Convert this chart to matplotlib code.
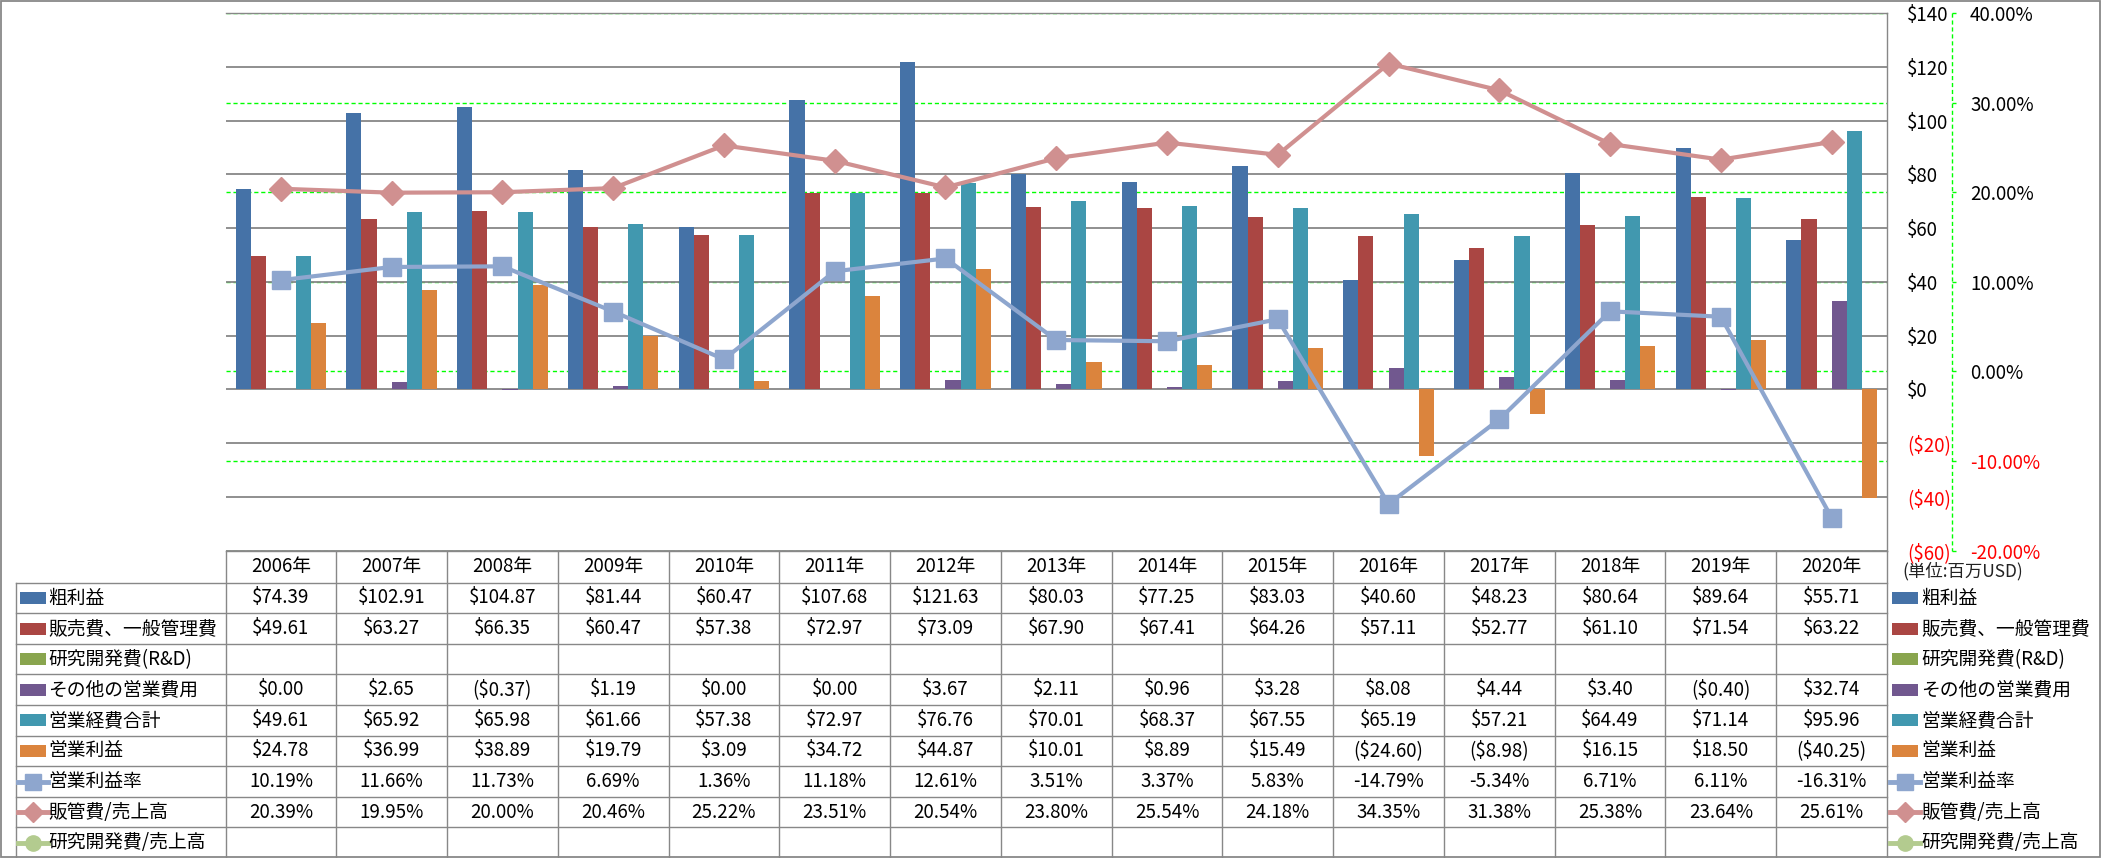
import numpy as np
import matplotlib
matplotlib.use('Agg')
import matplotlib.pyplot as plt
from matplotlib.patches import Rectangle

plt.rcParams['font.family'] = ['Noto Sans CJK JP', 'DejaVu Sans']

# ---- data ----
years = ['2006年', '2007年', '2008年', '2009年', '2010年', '2011年', '2012年', '2013年',
         '2014年', '2015年', '2016年', '2017年', '2018年', '2019年', '2020年']

gross_profit = [74.39, 102.91, 104.87, 81.44, 60.47, 107.68, 121.63, 80.03, 77.25, 83.03,
                40.60, 48.23, 80.64, 89.64, 55.71]
sga = [49.61, 63.27, 66.35, 60.47, 57.38, 72.97, 73.09, 67.90, 67.41, 64.26,
       57.11, 52.77, 61.10, 71.54, 63.22]
rnd = [None] * 15
other_opex = [0.00, 2.65, -0.37, 1.19, 0.00, 0.00, 3.67, 2.11, 0.96, 3.28,
              8.08, 4.44, 3.40, -0.40, 32.74]
total_opex = [49.61, 65.92, 65.98, 61.66, 57.38, 72.97, 76.76, 70.01, 68.37, 67.55,
              65.19, 57.21, 64.49, 71.14, 95.96]
op_income = [24.78, 36.99, 38.89, 19.79, 3.09, 34.72, 44.87, 10.01, 8.89, 15.49,
             -24.60, -8.98, 16.15, 18.50, -40.25]
op_margin = [10.19, 11.66, 11.73, 6.69, 1.36, 11.18, 12.61, 3.51, 3.37, 5.83,
             -14.79, -5.34, 6.71, 6.11, -16.31]
sga_ratio = [20.39, 19.95, 20.00, 20.46, 25.22, 23.51, 20.54, 23.80, 25.54, 24.18,
             34.35, 31.38, 25.38, 23.64, 25.61]
rnd_ratio = [None] * 15

bar_names = ['粗利益', '販売費、一般管理費', '研究開発費(R&D)', 'その他の営業費用', '営業経費合計', '営業利益']
bar_data = [gross_profit, sga, rnd, other_opex, total_opex, op_income]
bar_colors = ['#4572A7', '#AA4643', '#89A54E', '#71588F', '#4198AF', '#DB843D']

line_names = ['営業利益率', '販管費/売上高', '研究開発費/売上高']
line_data = [op_margin, sga_ratio, rnd_ratio]
line_colors = ['#8EA6CE', '#D09090', '#B3CB8F']
line_markers = ['s', 'D', 'o']

dollar_ticks = list(range(-60, 141, 20))
pct_ticks = [-0.2, -0.1, 0.0, 0.1, 0.2, 0.3, 0.4]


def fmt_money(v):
    if v is None:
        return ''
    return '(${:.2f})'.format(-v) if v < 0 else '${:.2f}'.format(v)


def fmt_pct(v):
    if v is None:
        return ''
    return '{:.2f}%'.format(v)


def arr(v):
    return np.array([np.nan if a is None else a for a in v], dtype=float)


# ---- layout (pixels) ----
W, H = 2101, 858
L, R, T, B = 225.5, 1887.0, 13.0, 550.7
AX2_X = 1951.5  # secondary axis line
GRID = '#878787'
GREEN = '#00FF00'
PT = 0.72  # points per pixel at dpi 100

fig = plt.figure(figsize=(W / 100, H / 100), dpi=100)
fig.patch.set_facecolor('white')
rect = [L / W, 1 - B / H, (R - L) / W, (B - T) / H]

x = np.arange(len(years))

# green secondary gridlines behind everything
gax = fig.add_axes(rect, zorder=0)
gax.set_xlim(-0.5, 14.5)
gax.set_ylim(-0.2, 0.4)
for p in pct_ticks:
    gax.axhline(p, color=GREEN, lw=1.0, ls=(0, (3, 2)))
gax.set_xticks([])
gax.set_yticks([])
gax.set_frame_on(False)

# secondary value axis labels, right of the $ labels
sax = fig.add_axes([L / W, 1 - B / H, (AX2_X - L) / W, (B - T) / H], zorder=0)
sax.set_frame_on(False)
sax.set_ylim(-0.2, 0.4)
sax.set_xticks([])
sax.yaxis.tick_right()
sax.set_yticks(pct_ticks)
sax.set_yticklabels(['{:.2f}%'.format(p * 100) for p in pct_ticks])
sax.tick_params(axis='y', direction='out', length=3.5 * PT, width=1, color=GREEN,
                pad=15 * PT, labelsize=13.5)
for lab, p in zip(sax.get_yticklabels(), pct_ticks):
    lab.set_color('#FF0000' if p < -1e-9 else 'black')

# primary axes with bars
ax = fig.add_axes(rect, zorder=1)
ax.set_frame_on(False)
ax.set_xlim(-0.5, 14.5)
ax.set_ylim(-60, 140)
ax.set_axisbelow(True)
ax.yaxis.grid(True, color=GRID, lw=1.3)

bw = 15.1 / ((R - L) / 15)
for k, (vals, c) in enumerate(zip(bar_data, bar_colors)):
    if all(v is None for v in vals):
        continue
    ax.bar(x + (k - 2.5) * bw, arr(vals), width=bw, color=c, zorder=2, linewidth=0)

ax.set_xticks([])
ax.yaxis.tick_right()
ax.set_yticks(dollar_ticks)
ax.set_yticklabels(['(${})'.format(-t) if t < 0 else '${}'.format(t) for t in dollar_ticks])
ax.tick_params(axis='y', left=False, right=False, labelleft=False, labelright=True,
               length=0, pad=20 * PT, labelsize=13.5)
for lab, t in zip(ax.get_yticklabels(), dollar_ticks):
    lab.set_color('#FF0000' if t < 0 else 'black')

# lines on the percent scale
lax = fig.add_axes(rect, zorder=2)
lax.set_frame_on(False)
lax.set_xlim(-0.5, 14.5)
lax.set_ylim(-0.2, 0.4)
lax.set_xticks([])
lax.set_yticks([])
for vals, c, m in zip(line_data, line_colors, line_markers):
    if all(v is None for v in vals):
        continue
    ms = 12.5 if m == 'D' else 13
    lax.plot(x, arr(vals) / 100, color=c, lw=3, marker=m, ms=ms, mfc=c, mec=c,
             solid_joinstyle='round', zorder=3)

# ---- borders, data table and legends (pixel coordinates) ----
tax = fig.add_axes([0, 0, 1, 1], zorder=3)
tax.patch.set_visible(False)
tax.set_xlim(0, W)
tax.set_ylim(H, 0)
tax.axis('off')

colw = (R - L) / 15
head_top, head_bot = 550.7, 582.7
rowh = (H - head_bot) / 9
lab_left = 16
lc = '#888888'
lw = 1.0

tax.add_patch(Rectangle((0.5, 0.8), W - 2, H - 1.8, fill=False, ec=lc, lw=1.3))
tax.plot([L, R], [T, T], color=GRID, lw=1.0)
tax.plot([R, R], [T, B], color=GRID, lw=1.0)
tax.plot([AX2_X, AX2_X], [T, B], color=GREEN, lw=1.0, ls=(0, (3, 2)))
tax.plot([L, R], [head_top, head_top], color=lc, lw=lw)
for k in range(9):
    yy = head_bot + k * rowh
    tax.plot([lab_left, R], [yy, yy], color=lc, lw=lw)
tax.plot([lab_left, lab_left], [head_bot, H], color=lc, lw=lw)
for i in range(16):
    xx = L + i * colw
    tax.plot([xx, xx], [head_top, H], color=lc, lw=lw)

fs = 13.5
for i, yr in enumerate(years):
    tax.text(L + (i + 0.5) * colw, (head_top + head_bot) / 2, yr, ha='center', va='center', fontsize=fs)

rows = []
for name, vals, c in zip(bar_names, bar_data, bar_colors):
    rows.append((name, [fmt_money(v) for v in vals], c, None))
for name, vals, c, m in zip(line_names, line_data, line_colors, line_markers):
    rows.append((name, [fmt_pct(v) for v in vals], c, m))


def legend_key(x0, yc, c, m):
    if m is None:
        tax.add_patch(Rectangle((x0 + 2, yc - 6), 26, 12, color=c, lw=0))
    else:
        tax.plot([x0, x0 + 30], [yc, yc], color=c, lw=3.5)
        tax.plot([x0 + 15], [yc], marker=m, ms=10 if m == 'D' else 11, color=c)


for k, (name, texts, c, m) in enumerate(rows):
    yc = head_bot + (k + 0.5) * rowh
    legend_key(18, yc, c, m)
    tax.text(48, yc, name, ha='left', va='center', fontsize=fs)
    legend_key(1890, yc, c, m)
    tax.text(1921, yc, name, ha='left', va='center', fontsize=fs)
    for i, s in enumerate(texts):
        tax.text(L + (i + 0.5) * colw, yc, s, ha='center', va='center', fontsize=fs)

tax.text(1902, 571, '(単位:百万USD)', ha='left', va='center', fontsize=12.5, color='#222222')

fig.savefig('out.png', dpi=100, facecolor='white')
